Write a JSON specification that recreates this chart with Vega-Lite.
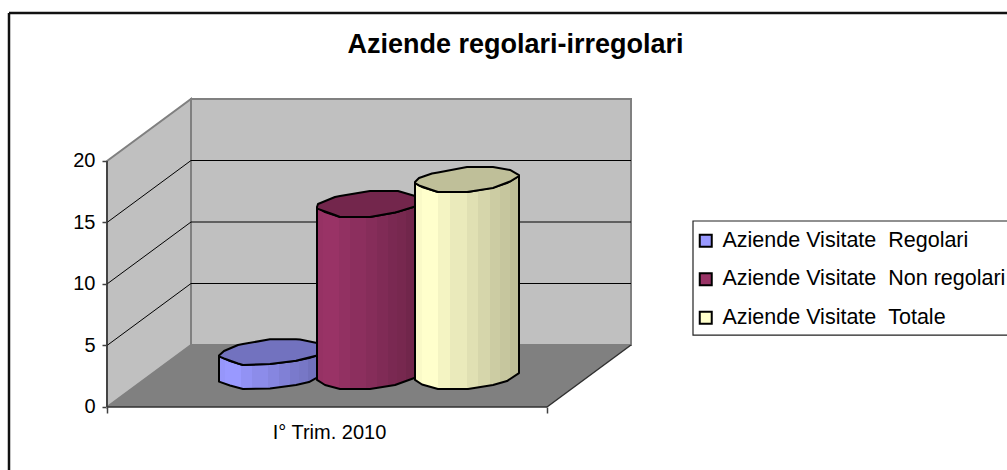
{"$schema":"https://vega.github.io/schema/vega-lite/v6.json","width":1007,"height":470,"padding":0,"autosize":"none","background":"white",
"config":{"font":"Liberation Sans","view":{"stroke":null}},
"title":{"text":"Aziende regolari-irregolari","fontSize":27,"fontWeight":"bold","color":"black","anchor":"middle","dx":12,"offset":-72,"baseline":"middle"},
"datasets":{
"shapes":[
{"part":"side","x":0,"y":20,"y2":0},{"part":"side","x":84,"y":25.04,"y2":5.04},
{"part":"back","x":84,"y":25.04,"y2":5.04},{"part":"back","x":524,"y":25.04,"y2":5.04},
{"part":"floor","x":0,"y":0,"y2":0},{"part":"floor","x":84,"y":5.04,"y2":0},{"part":"floor","x":440,"y":5.04,"y2":0},{"part":"floor","x":524,"y":5.04,"y2":5.04},
{"part":"blueBody","x":112,"y":4.15,"y2":2.06},{"part":"blueBody","x":123,"y":3.74,"y2":1.75},{"part":"blueBody","x":136,"y":3.41,"y2":1.46},{"part":"blueBody","x":163,"y":3.5,"y2":1.5},{"part":"blueBody","x":189,"y":3.76,"y2":1.79},{"part":"blueBody","x":202,"y":3.98,"y2":2.03},{"part":"blueBody","x":210,"y":4.19,"y2":2.38},
{"part":"blueTop","x":112,"y":4.19,"y2":4.11},{"part":"blueTop","x":117,"y":4.55,"y2":3.94},{"part":"blueTop","x":131,"y":5.04,"y2":3.54},{"part":"blueTop","x":136,"y":5.12,"y2":3.41},{"part":"blueTop","x":163,"y":5.5,"y2":3.5},{"part":"blueTop","x":189,"y":5.5,"y2":3.76},{"part":"blueTop","x":193,"y":5.49,"y2":3.84},{"part":"blueTop","x":210,"y":5.2,"y2":4.19},
{"part":"purpleBody","x":210,"y":16.22,"y2":2.2},{"part":"purpleBody","x":218,"y":15.85,"y2":1.79},{"part":"purpleBody","x":233,"y":15.45,"y2":1.46},{"part":"purpleBody","x":263,"y":15.45,"y2":1.46},{"part":"purpleBody","x":288,"y":15.81,"y2":1.79},{"part":"purpleBody","x":308,"y":16.3,"y2":2.38},
{"part":"purpleTop","x":210,"y":16.26,"y2":16.18},{"part":"purpleTop","x":211,"y":16.5,"y2":16.11},{"part":"purpleTop","x":228,"y":17.07,"y2":15.61},{"part":"purpleTop","x":233,"y":17.15,"y2":15.45},{"part":"purpleTop","x":263,"y":17.56,"y2":15.45},{"part":"purpleTop","x":288,"y":17.56,"y2":15.81},{"part":"purpleTop","x":291,"y":17.56,"y2":15.88},{"part":"purpleTop","x":308,"y":17.15,"y2":16.3},
{"part":"yellowBody","x":308,"y":18.21,"y2":2.2},{"part":"yellowBody","x":315,"y":17.89,"y2":1.83},{"part":"yellowBody","x":331,"y":17.48,"y2":1.46},{"part":"yellowBody","x":361,"y":17.48,"y2":1.46},{"part":"yellowBody","x":386,"y":17.85,"y2":1.79},{"part":"yellowBody","x":400,"y":18.21,"y2":2.11},{"part":"yellowBody","x":412,"y":18.78,"y2":2.76},
{"part":"yellowTop","x":308,"y":18.29,"y2":18.21},{"part":"yellowTop","x":312,"y":18.62,"y2":18.01},{"part":"yellowTop","x":325,"y":18.98,"y2":17.64},{"part":"yellowTop","x":331,"y":19.07,"y2":17.48},{"part":"yellowTop","x":360,"y":19.51,"y2":17.48},{"part":"yellowTop","x":386,"y":19.51,"y2":17.8},{"part":"yellowTop","x":403,"y":19.27,"y2":18.33},{"part":"yellowTop","x":412,"y":18.86,"y2":18.78}
],
"grid":[
{"s":"g5","o":1,"x":0,"y":5},{"s":"g5","o":2,"x":84,"y":10.04},{"s":"g5","o":3,"x":524,"y":10.04},
{"s":"g10","o":1,"x":0,"y":10},{"s":"g10","o":2,"x":84,"y":15.04},{"s":"g10","o":3,"x":524,"y":15.04},
{"s":"g15","o":1,"x":0,"y":15},{"s":"g15","o":2,"x":84,"y":20.04},{"s":"g15","o":3,"x":524,"y":20.04}
],
"frame":[
{"s":"top","o":1,"x":-98,"y":32.03},{"s":"top","o":2,"x":900,"y":32.03},
{"s":"left","o":1,"x":-98,"y":32.03},{"s":"left","o":2,"x":-98,"y":-5.12}
],
"legendBox":[
{"o":1,"x":900,"y":15.12},{"o":2,"x":586,"y":15.12},{"o":3,"x":586,"y":5.85},{"o":4,"x":900,"y":5.85}
],
"edges":[
{"s":"axisY","o":1,"x":0,"y":0},{"s":"axisY","o":2,"x":0,"y":20},
{"s":"axisX","o":1,"x":0,"y":0},{"s":"axisX","o":2,"x":440,"y":0},
{"s":"floorEdge","o":1,"x":440,"y":0},{"s":"floorEdge","o":2,"x":524,"y":5.04}
],
"series":[
{"serie":"Aziende Visitate  Regolari","valore":2,"x":163},
{"serie":"Aziende Visitate  Non regolari","valore":14,"x":263},
{"serie":"Aziende Visitate  Totale","valore":16,"x":361}
]},
"encoding":{
"x":{"field":"x","type":"quantitative","scale":{"domain":[-107,900],"nice":false,"zero":false},
 "axis":{"title":null,"grid":false,"domain":false,"values":[0,222,440],"offset":-63,"tickSize":6,"tickColor":"#404040","tickWidth":1.5,"tickOpacity":{"condition":{"test":"datum.value==222","value":0},"value":1},"labelExpr":"datum.value==222?'I° Trim. 2010':''","labelFontSize":20,"labelColor":"black","labelPadding":9,"labelOverlap":false,"labelFlush":false}},
"y":{"field":"y","type":"quantitative","scale":{"domain":[-5.122,33.089],"nice":false,"zero":false},
 "axis":{"title":null,"grid":false,"domain":false,"values":[0,5,10,15,20],"offset":-107,"tickSize":5,"tickColor":"#404040","tickWidth":1.5,"labelFontSize":20,"labelColor":"black","labelPadding":7}}
},
"layer":[
{"data":{"name":"shapes"},"transform":[{"filter":"datum.part=='side'"}],"mark":{"type":"area","fill":"#C0C0C0","stroke":"#808080","strokeWidth":2},"encoding":{"y2":{"field":"y2"}}},
{"data":{"name":"shapes"},"transform":[{"filter":"datum.part=='back'"}],"mark":{"type":"area","fill":"#C0C0C0","stroke":"#808080","strokeWidth":2},"encoding":{"y2":{"field":"y2"}}},
{"data":{"name":"shapes"},"transform":[{"filter":"datum.part=='floor'"}],"mark":{"type":"area","fill":"#808080"},"encoding":{"y2":{"field":"y2"}}},
{"data":{"name":"grid"},"mark":{"type":"line","color":"black","strokeWidth":1},"encoding":{"detail":{"field":"s"},"order":{"field":"o"}}},
{"data":{"name":"series"},"mark":{"type":"point","filled":true,"shape":"square","size":100,"opacity":1},"encoding":{"y":{"field":"valore","type":"quantitative"},
 "color":{"field":"serie","type":"nominal","sort":null,"scale":{"domain":["Aziende Visitate  Regolari","Aziende Visitate  Non regolari","Aziende Visitate  Totale"],"range":["#9999FF","#993366","#FFFFCC"]},
 "legend":{"title":null,"orient":"none","legendX":695,"legendY":230,"padding":0,"symbolType":"square","symbolSize":144,"symbolStrokeColor":"black","symbolStrokeWidth":2,"symbolOpacity":1,"labelFontSize":21.5,"labelColor":"black","labelOffset":6,"rowPadding":15.5,"labelLimit":400,"values":["Aziende Visitate  Regolari","Aziende Visitate  Non regolari","Aziende Visitate  Totale"],"labelExpr":"replace(datum.label,'  ','\u00a0\u00a0')"}}}},
{"data":{"name":"shapes"},"transform":[{"filter":"datum.part=='blueBody'"}],"mark":{"type":"area","stroke":"black","strokeWidth":2,"strokeJoin":"round","fill":{"gradient":"linear","x1":0,"y1":0,"x2":1,"y2":0,"stops":[{"offset":0,"color":"#9696FA"},{"offset":0.064,"color":"#9696FA"},{"offset":0.064,"color":"#9999FF"},{"offset":0.224,"color":"#9999FF"},{"offset":0.224,"color":"#9292F4"},{"offset":0.337,"color":"#9292F4"},{"offset":0.337,"color":"#8C8CEA"},{"offset":0.497,"color":"#8C8CEA"},{"offset":0.497,"color":"#8686E0"},{"offset":0.609,"color":"#8686E0"},{"offset":0.609,"color":"#8080D6"},{"offset":0.721,"color":"#8080D6"},{"offset":0.721,"color":"#7A7ACC"},{"offset":0.817,"color":"#7A7ACC"},{"offset":0.817,"color":"#7777C6"},{"offset":0.913,"color":"#7777C6"},{"offset":0.913,"color":"#7171BD"},{"offset":1,"color":"#7171BD"}]}},"encoding":{"y2":{"field":"y2"}}},
{"data":{"name":"shapes"},"transform":[{"filter":"datum.part=='blueTop'"}],"mark":{"type":"area","fill":"#7272BF","stroke":"black","strokeWidth":2,"strokeJoin":"round"},"encoding":{"y2":{"field":"y2"}}},
{"data":{"name":"shapes"},"transform":[{"filter":"datum.part=='purpleBody'"}],"mark":{"type":"area","stroke":"black","strokeWidth":2,"strokeJoin":"round","fill":{"gradient":"linear","x1":0,"y1":0,"x2":1,"y2":0,"stops":[{"offset":0,"color":"#963264"},{"offset":0.064,"color":"#963264"},{"offset":0.064,"color":"#993366"},{"offset":0.224,"color":"#993366"},{"offset":0.224,"color":"#923162"},{"offset":0.337,"color":"#923162"},{"offset":0.337,"color":"#8C2F5E"},{"offset":0.497,"color":"#8C2F5E"},{"offset":0.497,"color":"#862D5A"},{"offset":0.609,"color":"#862D5A"},{"offset":0.609,"color":"#802B56"},{"offset":0.721,"color":"#802B56"},{"offset":0.721,"color":"#7A2952"},{"offset":0.817,"color":"#7A2952"},{"offset":0.817,"color":"#77284F"},{"offset":0.913,"color":"#77284F"},{"offset":0.913,"color":"#71264B"},{"offset":1,"color":"#71264B"}]}},"encoding":{"y2":{"field":"y2"}}},
{"data":{"name":"shapes"},"transform":[{"filter":"datum.part=='purpleTop'"}],"mark":{"type":"area","fill":"#73264C","stroke":"black","strokeWidth":2,"strokeJoin":"round"},"encoding":{"y2":{"field":"y2"}}},
{"data":{"name":"shapes"},"transform":[{"filter":"datum.part=='yellowBody'"}],"mark":{"type":"area","stroke":"black","strokeWidth":2,"strokeJoin":"round","fill":{"gradient":"linear","x1":0,"y1":0,"x2":1,"y2":0,"stops":[{"offset":0,"color":"#FAFAC8"},{"offset":0.064,"color":"#FAFAC8"},{"offset":0.064,"color":"#FFFFCC"},{"offset":0.224,"color":"#FFFFCC"},{"offset":0.224,"color":"#F4F4C3"},{"offset":0.337,"color":"#F4F4C3"},{"offset":0.337,"color":"#EAEABB"},{"offset":0.497,"color":"#EAEABB"},{"offset":0.497,"color":"#E0E0B3"},{"offset":0.609,"color":"#E0E0B3"},{"offset":0.609,"color":"#D6D6AB"},{"offset":0.721,"color":"#D6D6AB"},{"offset":0.721,"color":"#CCCCA3"},{"offset":0.817,"color":"#CCCCA3"},{"offset":0.817,"color":"#C6C69E"},{"offset":0.913,"color":"#C6C69E"},{"offset":0.913,"color":"#BDBD97"},{"offset":1,"color":"#BDBD97"}]}},"encoding":{"y2":{"field":"y2"}}},
{"data":{"name":"shapes"},"transform":[{"filter":"datum.part=='yellowTop'"}],"mark":{"type":"area","fill":"#BFBF99","stroke":"black","strokeWidth":2,"strokeJoin":"round"},"encoding":{"y2":{"field":"y2"}}},
{"data":{"name":"edges"},"mark":{"type":"line","color":"#303030","strokeWidth":1.5},"encoding":{"detail":{"field":"s"},"order":{"field":"o"}}},
{"data":{"name":"legendBox"},"mark":{"type":"line","color":"#222222","strokeWidth":1.2},"encoding":{"order":{"field":"o"}}},
{"data":{"name":"frame"},"mark":{"type":"line","color":"#111111","strokeWidth":2.5},"encoding":{"detail":{"field":"s"},"order":{"field":"o"}}}
]}
